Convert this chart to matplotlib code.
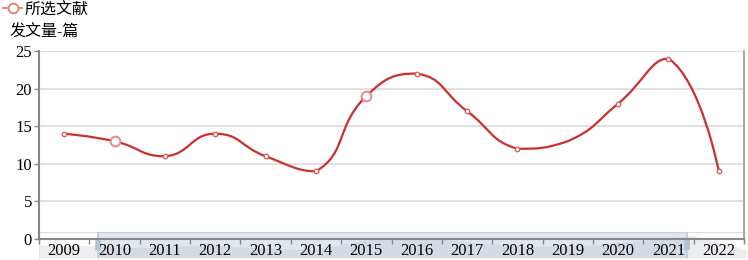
import matplotlib
matplotlib.use('Agg')
import matplotlib.pyplot as plt
import numpy as np
from matplotlib.path import Path
from matplotlib.patches import PathPatch, Rectangle, FancyBboxPatch
from matplotlib.lines import Line2D

plt.rcParams['font.family'] = ['Liberation Serif', 'Noto Sans CJK SC']

# data
years = ['2009', '2010', '2011', '2012', '2013', '2014', '2015',
         '2016', '2017', '2018', '2019', '2020', '2021', '2022']
papers = [14, 13, 11, 14, 11, 9, 19, 22, 17, 12, 13, 18, 24, 9]
series_name = '所选文献'
y_name = '发文量-篇'
big_marker_years = ['2010', '2015']
no_marker_years = ['2019']

W, H = 748, 260
line_color = '#c8312f'
ax_l, ax_r, ax_t, ax_b = 39, 744, 51, 239

fig = plt.figure(figsize=(W / 100, H / 100), dpi=100)
ax = fig.add_axes([ax_l / W, (H - ax_b) / H, (ax_r - ax_l) / W, (ax_b - ax_t) / H])
ax.set_zorder(2)
ax.patch.set_alpha(0)

x = np.arange(len(years))
y = np.array(papers, dtype=float)
ax.set_xlim(-0.5, len(years) - 0.5)
ax.set_ylim(0, 25)

# echarts-like smooth curve (bezier control points from neighbours, in pixel space)
sx = (ax_r - ax_l) / len(years)
sy = (ax_b - ax_t) / 25.0
P = np.column_stack([x * sx, y * sy])
smooth = 0.5
n = len(P)
cin = P.copy()
cout = P.copy()
for i in range(1, n - 1):
    v = P[i + 1] - P[i - 1]
    d0 = np.hypot(*(P[i] - P[i - 1]))
    d1 = np.hypot(*(P[i + 1] - P[i]))
    r = d1 / (d0 + d1)
    cout[i] = P[i] + v * smooth * r
    cin[i] = P[i] - v * smooth * (1 - r)
    # keep control points inside the neighbouring segment's y range
    cout[i, 1] = np.clip(cout[i, 1], min(P[i, 1], P[i + 1, 1]), max(P[i, 1], P[i + 1, 1]))
    cin[i, 1] = np.clip(cin[i, 1], min(P[i, 1], P[i - 1, 1]), max(P[i, 1], P[i - 1, 1]))
verts = [P[0]]
codes = [Path.MOVETO]
for i in range(n - 1):
    verts += [cout[i], cin[i + 1], P[i + 1]]
    codes += [Path.CURVE4] * 3
verts = np.array(verts) / np.array([sx, sy])
ax.add_patch(PathPatch(Path(verts, codes), fill=False, edgecolor=line_color,
                       lw=1.6, zorder=3, capstyle='round'))

for xi, yi, yr in zip(x, y, years):
    if yr in no_marker_years:
        continue
    if yr in big_marker_years:
        ax.plot(xi, yi, 'o', ms=7, mfc='white', mec='#e58a87', mew=1.4, zorder=4)
    else:
        ax.plot(xi, yi, 'o', ms=3.2, mfc='white', mec='#d9605c', mew=1.0, zorder=4)

# axes styling
ax.set_yticks([0, 5, 10, 15, 20, 25])
ax.grid(axis='y', color='#dedede', lw=1.3)
ax.set_axisbelow(True)
ax.set_xticks(x)
ax.set_xticklabels(years)
ax.set_xticks(np.arange(-0.5, len(years)), minor=True)
ax.tick_params(axis='x', which='major', length=0, labelsize=12, pad=3)
ax.tick_params(axis='x', which='minor', length=3.5, color='#888888', width=1)
ax.tick_params(axis='y', length=3.5, color='#888888', width=1, labelsize=12, pad=1.5)
for s in ['left', 'bottom']:
    ax.spines[s].set_color('#888888')
    ax.spines[s].set_linewidth(1.5)
ax.spines['right'].set_color('#999999')
ax.spines['right'].set_linewidth(1.2)
ax.spines['top'].set_visible(False)

# slider (dataZoom)
sl_l, sl_r, sl_t, sl_b = 39, 746, 232, 258
sl = fig.add_axes([sl_l / W, (H - sl_b) / H, (sl_r - sl_l) / W, (sl_b - sl_t) / H])
sl.set_zorder(1)
sl.set_xlim(0, 1)
sl.set_ylim(0, 1)
sl.axis('off')
sl.add_patch(Rectangle((0, 0), 1, 1, facecolor='white', edgecolor='#dddddd', lw=1))
xs = x / (len(x) - 1)
ys = y / (y.max() * 1.15)
sl.fill_between(xs, 0, ys, color='#eceef2', lw=0)
start, end = (98 - sl_l) / (sl_r - sl_l), (687 - sl_l) / (sl_r - sl_l)
sl.add_patch(Rectangle((start, 0), end - start, 1, facecolor=(167 / 255, 183 / 255, 204 / 255, 0.33),
                       edgecolor='none'))
for hx in [start, end]:
    sl.add_patch(Rectangle((hx - 0.0012, 0), 0.0024, 1, facecolor='#c3cfdd', edgecolor='none'))
    sl.add_patch(FancyBboxPatch((hx - 0.004, 0.3), 0.008, 0.45, boxstyle='round,pad=0,rounding_size=0.003',
                                facecolor='#b3c1d3', edgecolor='none'))

# legend and axis name
fig.add_artist(Line2D([3 / W, 22 / W], [(H - 8) / H] * 2, color='#e07d7a', lw=1.3))
fig.add_artist(Line2D([12.5 / W], [(H - 8) / H], marker='o', ms=7, mfc='white', mec='#e07d7a', mew=1.3))
fig.text(25 / W, (H - 9) / H, series_name, fontsize=11.5, va='center_baseline', ha='left')
fig.text(10 / W, (H - 31) / H, y_name, fontsize=11.5, va='center_baseline', ha='left')

fig.savefig('out.png', dpi=100)
